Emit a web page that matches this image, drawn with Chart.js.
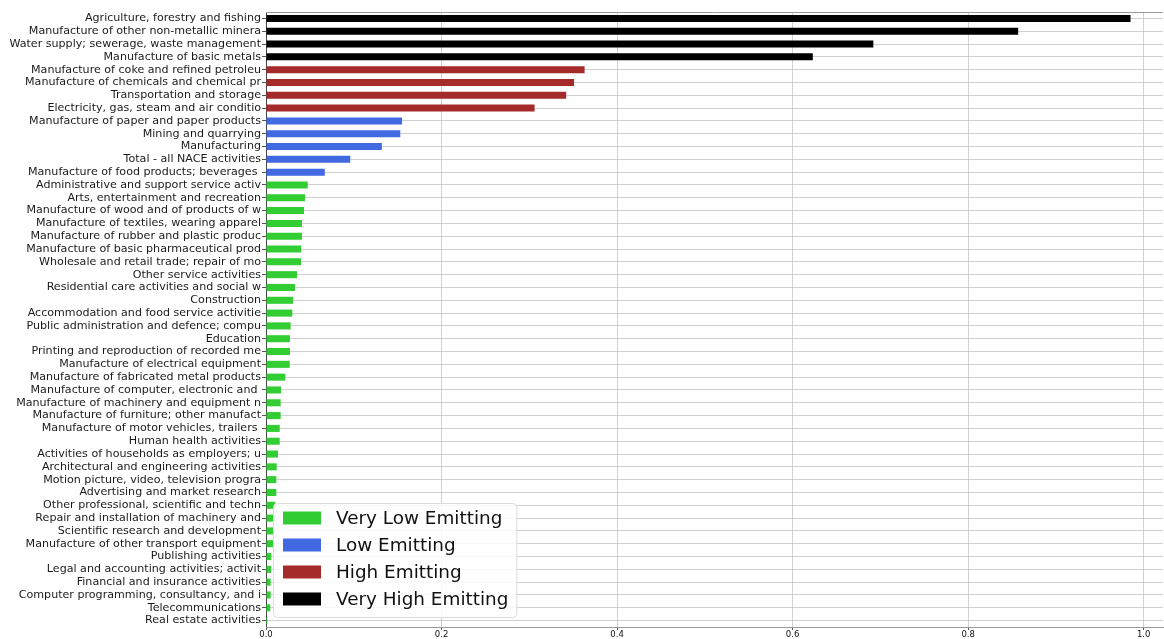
<!DOCTYPE html>
<html>
<head>
<meta charset="utf-8">
<script src="https://cdn.jsdelivr.net/npm/chart.js@4/dist/chart.umd.min.js"></script>
<style>
html,body{margin:0;padding:0;background:#fff;}
#wrap{width:1164px;height:639px;position:relative;}
</style>
</head>
<body>
<div id="wrap"><canvas id="c" width="1164" height="639"></canvas></div>
<script>
const categories = [
"Agriculture, forestry and fishing",
"Manufacture of other non-metallic minera",
"Water supply; sewerage, waste management",
"Manufacture of basic metals",
"Manufacture of coke and refined petroleu",
"Manufacture of chemicals and chemical pr",
"Transportation and storage",
"Electricity, gas, steam and air conditio",
"Manufacture of paper and paper products",
"Mining and quarrying",
"Manufacturing",
"Total - all NACE activities",
"Manufacture of food products; beverages ",
"Administrative and support service activ",
"Arts, entertainment and recreation",
"Manufacture of wood and of products of w",
"Manufacture of textiles, wearing apparel",
"Manufacture of rubber and plastic produc",
"Manufacture of basic pharmaceutical prod",
"Wholesale and retail trade; repair of mo",
"Other service activities",
"Residential care activities and social w",
"Construction",
"Accommodation and food service activitie",
"Public administration and defence; compu",
"Education",
"Printing and reproduction of recorded me",
"Manufacture of electrical equipment",
"Manufacture of fabricated metal products",
"Manufacture of computer, electronic and ",
"Manufacture of machinery and equipment n",
"Manufacture of furniture; other manufact",
"Manufacture of motor vehicles, trailers ",
"Human health activities",
"Activities of households as employers; u",
"Architectural and engineering activities",
"Motion picture, video, television progra",
"Advertising and market research",
"Other professional, scientific and techn",
"Repair and installation of machinery and",
"Scientific research and development",
"Manufacture of other transport equipment",
"Publishing activities",
"Legal and accounting activities; activit",
"Financial and insurance activities",
"Computer programming, consultancy, and i",
"Telecommunications",
"Real estate activities"
];
const values = [
0.985, 0.857, 0.692, 0.623,
0.363, 0.351, 0.342, 0.306,
0.155, 0.153, 0.132, 0.096, 0.067,
0.0475, 0.0444, 0.0433, 0.041, 0.041, 0.0402, 0.0399, 0.0353, 0.033, 0.0308, 0.030,
0.0281, 0.0273, 0.0273, 0.027, 0.022, 0.0171, 0.0167, 0.0167, 0.0156, 0.0156, 0.0137,
0.0122, 0.0118, 0.0118, 0.0106, 0.0099, 0.0087, 0.0080, 0.006, 0.0057, 0.0053, 0.0053,
0.0049, 0.0015
];
// group index per category: 0 Very Low, 1 Low, 2 High, 3 Very High
const groups = [
3,3,3,3,
2,2,2,2,
1,1,1,1,1,
0,0,0,0,0,0,0,0,0,0,0,
0,0,0,0,0,0,0,0,0,0,0,
0,0,0,0,0,0,0,0,0,0,0,
0,0
];
const groupNames = ["Very Low Emitting","Low Emitting","High Emitting","Very High Emitting"];
const groupColors = ["#32CD32","#4169E1","#A52A2A","#000000"];
const xTicks = [0, 0.2, 0.4, 0.6, 0.8, 1.0];

const datasets = groupNames.map((name, g) => ({
  label: name,
  data: values.map((v, i) => groups[i] === g ? v : null),
  backgroundColor: groupColors[g],
  borderWidth: 0,
  barPercentage: 0.55,
  categoryPercentage: 1.0
}));

const FONT = "DejaVu Sans";

const insideLegend = {
  id: 'insideLegend',
  afterDraw(chart) {
    const ctx = chart.ctx, a = chart.chartArea;
    ctx.save();
    ctx.font = "18.4px '" + FONT + "'";
    let maxW = 0;
    groupNames.forEach(n => { maxW = Math.max(maxW, ctx.measureText(n).width); });
    const rowH = 27, padX = 10, patchW = 38, patchH = 13, gap = 15;
    const w = padX + patchW + gap + maxW + 8;
    const h = 114;
    const x = a.left + 7, y = a.bottom - 10 - h;
    ctx.fillStyle = 'rgba(255,255,255,0.85)';
    ctx.strokeStyle = '#dcdcdc';
    ctx.lineWidth = 1;
    ctx.beginPath();
    ctx.roundRect(x + 0.5, y + 0.5, w, h, 4);
    ctx.fill(); ctx.stroke();
    ctx.textBaseline = 'middle';
    ctx.textAlign = 'left';
    groupNames.forEach((n, i) => {
      const cy = y + 1.5 + rowH * i + rowH / 2;
      ctx.fillStyle = groupColors[i];
      ctx.fillRect(x + padX, cy - patchH / 2, patchW, patchH);
      ctx.fillStyle = '#111';
      ctx.fillText(n, x + padX + patchW + gap, cy + 1);
    });
    ctx.restore();
  }
};

const topSpine = {
  id: 'topSpine',
  afterDatasetsDraw(chart) {
    const ctx = chart.ctx, a = chart.chartArea;
    ctx.save();
    ctx.strokeStyle = '#999';
    ctx.lineWidth = 1;
    ctx.beginPath();
    ctx.moveTo(a.left, a.top + 0.5);
    ctx.lineTo(a.right, a.top + 0.5);
    ctx.stroke();
    ctx.restore();
  }
};

new Chart(document.getElementById('c'), {
  type: 'bar',
  data: { labels: categories, datasets },
  options: {
    indexAxis: 'y',
    responsive: false,
    animation: false,
    layout: { padding: { top: 12, right: 1, left: 0, bottom: 0 } },
    plugins: { legend: { display: false }, tooltip: { enabled: false } },
    scales: {
      y: {
        stacked: true,
        z: 1,
        offset: true,
        afterFit(s) { s.width = 266; },
        grid: { color: 'rgba(176,176,176,0.6)', lineWidth: 1, offset: false, drawTicks: true, tickLength: 4, tickColor: '#555' },
        border: { display: true, color: '#444', width: 1 },
        ticks: { autoSkip: false, color: '#1a1a1a', padding: 1, font: { family: FONT, size: 11.1 } }
      },
      x: {
        stacked: true,
        z: 1,
        min: 0,
        max: 1.022,
        afterBuildTicks(s) { s.ticks = xTicks.map(v => ({ value: v })); },
        afterFit(s) { s.height = 12; },
        grid: { color: 'rgba(176,176,176,0.6)', lineWidth: 1, drawTicks: true, tickLength: 3, tickColor: '#555' },
        border: { display: true, color: '#999', width: 1 },
        ticks: { color: '#111', padding: 0, maxRotation: 0, font: { family: FONT, size: 8.5 }, callback: v => Number(v).toFixed(1) }
      }
    }
  },
  plugins: [topSpine, insideLegend]
});
</script>
</body>
</html>
